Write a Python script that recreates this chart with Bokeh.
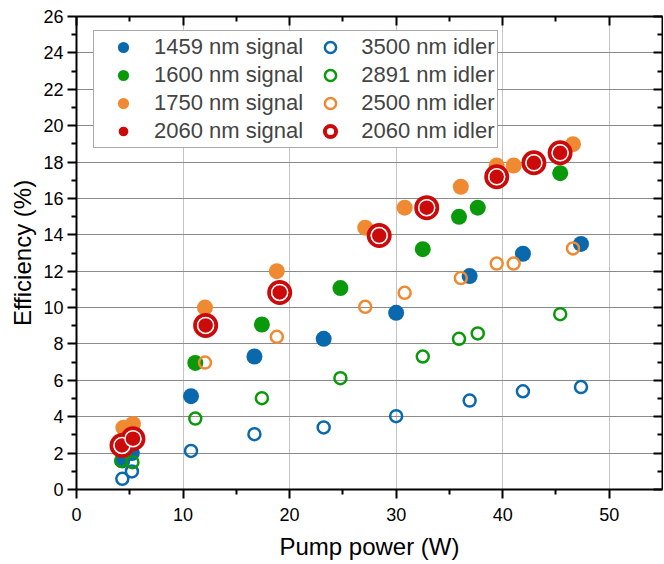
from bokeh.plotting import figure
from bokeh.models import (LinearAxis, FixedTicker, Legend, LegendItem, Range1d,
                          CustomJSTickFormatter)
from bokeh.embed import file_html
from bokeh.resources import INLINE

# ---------------- data ----------------
x_blue = [4.3, 5.2, 10.75, 16.7, 23.2, 30.0, 36.9, 41.9, 47.35]
sig_1459 = [1.6, 2.0, 5.13, 7.31, 8.28, 9.71, 11.73, 12.96, 13.5]
idl_3500 = [0.59, 0.99, 2.12, 3.04, 3.41, 4.03, 4.89, 5.40, 5.63]

x_green = [4.2, 5.25, 11.15, 17.4, 24.77, 32.5, 35.9, 37.66, 45.4]
sig_1600 = [2.5, 2.6, 6.96, 9.07, 11.07, 13.21, 14.99, 15.49, 17.39]
idl_2891 = [1.58, 1.5, 3.9, 5.02, 6.12, 7.31, 8.28, 8.58, 9.64]

x_orange = [4.4, 5.3, 12.06, 18.8, 27.1, 30.8, 36.07, 39.44, 41.03, 46.6]
sig_1750 = [3.4, 3.6, 10.0, 12.0, 14.39, 15.49, 16.64, 17.81, 17.81, 18.98]
idl_2500 = [2.6, 2.95, 6.98, 8.39, 10.04, 10.81, 11.62, 12.42, 12.42, 13.25]

x_red = [4.27, 5.3, 12.12, 19.07, 28.41, 32.87, 39.44, 42.93, 45.39]
sig_2060 = [2.42, 2.79, 9.02, 10.83, 13.96, 15.49, 17.19, 17.96, 18.51]
idl_2060 = [2.42, 2.79, 9.02, 10.83, 13.96, 15.49, 17.19, 17.96, 18.51]

x_ticks = [0, 10, 20, 30, 40, 50]
y_ticks = list(range(0, 27, 2))
x_minor = [5, 15, 25, 35, 45]
y_minor = list(range(1, 26, 2))

BLUE = "#0a68ad"
GREEN = "#0a990a"
ORANGE = "#f08a32"
RED = "#cc0a0a"

FONT = "Liberation Sans"

p = figure(frame_width=586, frame_height=473, output_backend="svg",
           toolbar_location=None,
           x_range=Range1d(0, 55), y_range=Range1d(0, 26),
           min_border_left=76, min_border_right=1, min_border_top=16,
           min_border_bottom=74, x_axis_label="Pump power (W)",
           y_axis_label="Efficiency (%)")
p.outline_line_color = None
p.background_fill_color = "white"

# grid
p.xgrid.ticker = FixedTicker(ticks=[10, 20, 30, 40, 50])
p.xgrid.grid_line_color = "#c4c4c4"
p.xgrid.grid_line_width = 1
p.ygrid.ticker = FixedTicker(ticks=list(range(2, 26, 2)))
p.ygrid.grid_line_color = "#8a8a8a"
p.ygrid.grid_line_width = 1

xt = FixedTicker(ticks=x_ticks, minor_ticks=x_minor)
yt = FixedTicker(ticks=y_ticks, minor_ticks=y_minor)

def style_axis(ax):
    ax.axis_line_width = 2
    ax.axis_line_color = "black"
    ax.major_tick_line_width = 2
    ax.minor_tick_line_width = 2
    ax.major_tick_line_color = "black"
    ax.minor_tick_line_color = "black"
    ax.major_label_text_font = FONT
    ax.major_label_text_font_size = "18px"
    ax.major_label_text_color = "black"
    ax.axis_label_text_font = FONT
    ax.axis_label_text_font_size = "24px"
    ax.axis_label_text_font_style = "normal"
    ax.axis_label_text_color = "black"

for ax in p.xaxis:
    ax.ticker = xt
    style_axis(ax)
    ax.major_tick_out = 9
    ax.major_tick_in = 0
    ax.minor_tick_out = 5
    ax.minor_tick_in = 0
    ax.major_label_standoff = 9
    ax.axis_label_standoff = 9
for ax in p.yaxis:
    ax.ticker = yt
    style_axis(ax)
    ax.major_tick_out = 9
    ax.major_tick_in = 0
    ax.minor_tick_out = 5
    ax.minor_tick_in = 0
    ax.major_label_standoff = 4
    ax.axis_label_standoff = 4

top = LinearAxis(ticker=FixedTicker(ticks=x_ticks, minor_ticks=x_minor),
                 formatter=CustomJSTickFormatter(code="return ''"))
right = LinearAxis(ticker=FixedTicker(ticks=y_ticks, minor_ticks=y_minor),
                   formatter=CustomJSTickFormatter(code="return ''"))
for ax in (top, right):
    style_axis(ax)
    ax.major_tick_out = 0
    ax.major_tick_in = 9
    ax.minor_tick_out = 0
    ax.minor_tick_in = 5
    ax.major_label_standoff = 0
    ax.axis_label = None
p.add_layout(top, "above")
p.add_layout(right, "right")

# glyphs
FS = 16
OS = 12
r_bs = p.scatter(x_blue, sig_1459, size=FS, fill_color=BLUE, line_color=None)
r_gs = p.scatter(x_green, sig_1600, size=FS, fill_color=GREEN, line_color=None)
r_os = p.scatter(x_orange, sig_1750, size=FS, fill_color=ORANGE, line_color=None)
r_bi = p.scatter(x_blue, idl_3500, size=OS, fill_color="white", fill_alpha=0,
                 line_color=BLUE, line_width=2.5)
r_gi = p.scatter(x_green, idl_2891, size=OS, fill_color="white", fill_alpha=0,
                 line_color=GREEN, line_width=2.5)
r_oi = p.scatter(x_orange, idl_2500, size=OS, fill_color="white", fill_alpha=0,
                 line_color=ORANGE, line_width=2.5)
r_ri = p.scatter(x_red, idl_2060, size=21, fill_color="white", fill_alpha=0,
                 line_color=RED, line_width=4)
r_rs = p.scatter(x_red, sig_2060, size=16, fill_color=RED, line_color="white",
                 line_width=1.5)

items = [
    LegendItem(label="1459 nm signal", renderers=[r_bs]),
    LegendItem(label="1600 nm signal", renderers=[r_gs]),
    LegendItem(label="1750 nm signal", renderers=[r_os]),
    LegendItem(label="2060 nm signal", renderers=[r_rs]),
    LegendItem(label="3500 nm idler", renderers=[r_bi]),
    LegendItem(label="2891 nm idler", renderers=[r_gi]),
    LegendItem(label="2500 nm idler", renderers=[r_oi]),
    LegendItem(label="2060 nm idler", renderers=[r_ri]),
]
leg = Legend(items=items, ncols=2, location=(17, 341),
             label_text_font=FONT, label_text_font_size="22px",
             glyph_height=28, glyph_width=54, label_height=28,
             label_standoff=4, spacing=0, padding=2, margin=0,
             border_line_color="#555555", border_line_width=1.5,
             background_fill_alpha=1)
p.add_layout(leg, "center")

open("out.html", "w").write(file_html(p, INLINE))
